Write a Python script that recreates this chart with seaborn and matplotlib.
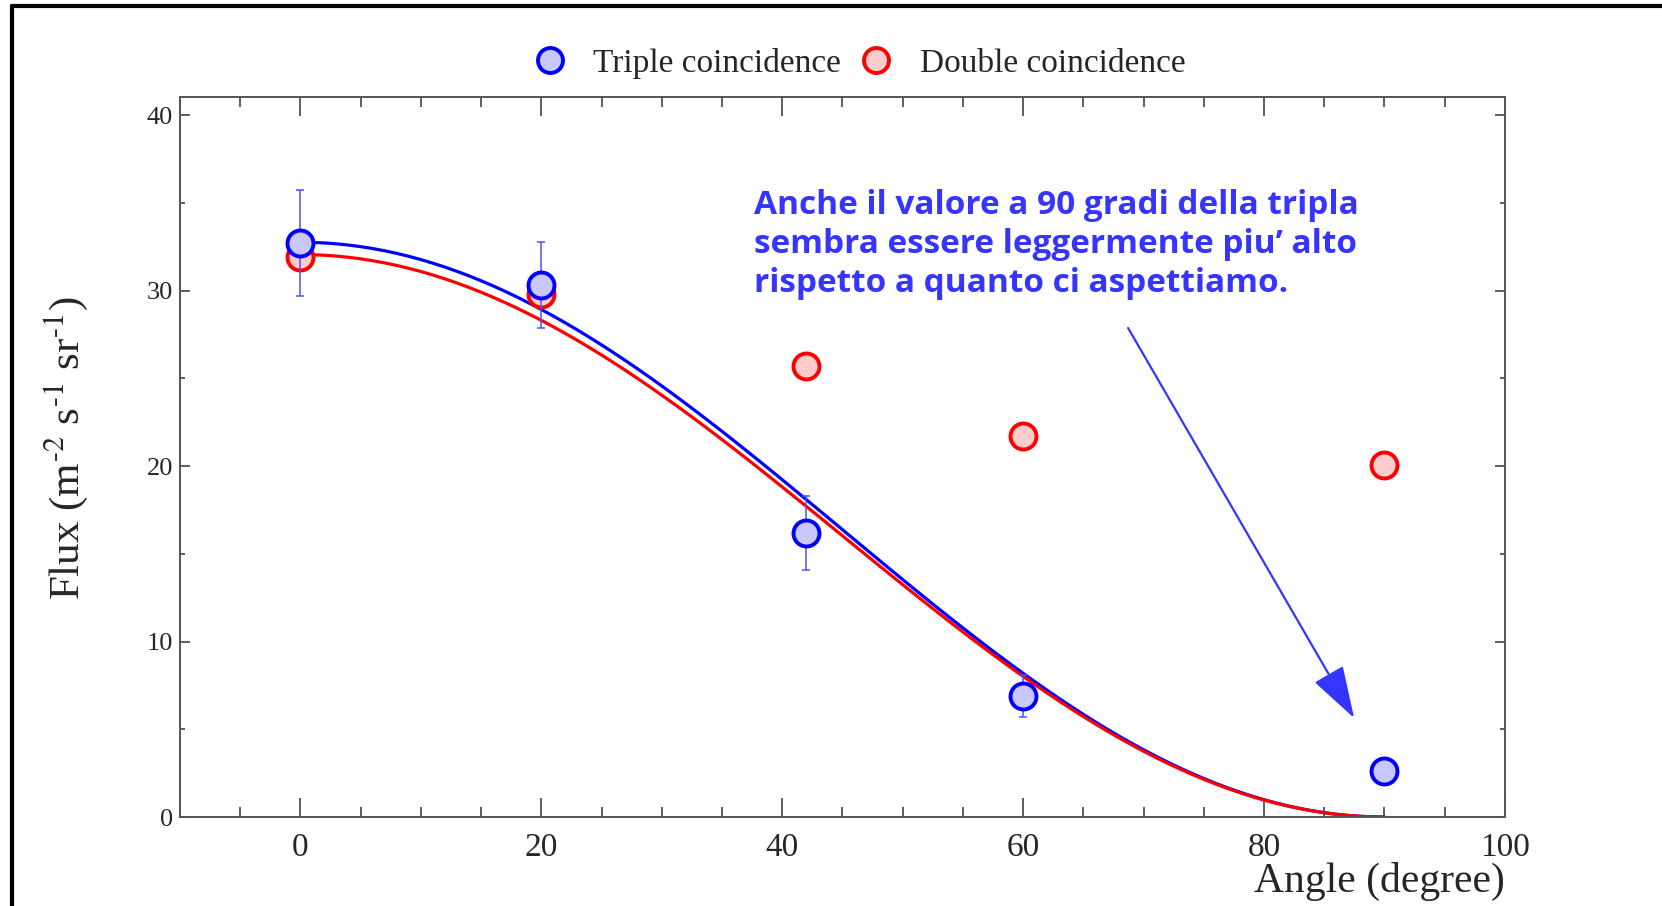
import numpy as np
import seaborn as sns
import matplotlib.pyplot as plt
from matplotlib.lines import Line2D
from matplotlib.ticker import MultipleLocator

# measured points (angle in degrees)
angles = [0, 20, 42, 60, 90]
triple_flux = [32.7, 30.3, 16.2, 6.9, 2.6]
triple_err = [3.0, 2.45, 2.1, 1.2, 0.3]
double_flux = [31.9, 29.8, 25.7, 21.7, 20.05]

# cos^2 fit amplitudes
fit_triple = 32.75
fit_double = 32.05

note = ("Anche il valore a 90 gradi della tripla\n"
        "sembra essere leggermente piu\u2019 alto\n"
        "rispetto a quanto ci aspettiamo.")

sns.set_theme(style="ticks")
plt.rcParams['font.family'] = ['Liberation Serif', 'DejaVu Serif']
plt.rcParams['mathtext.fontset'] = 'stix'

fig = plt.figure(figsize=(16.62, 9.06), dpi=100)
ax = fig.add_axes([0.1083, 0.0982, 0.7972, 0.7942])

# fitted curves
theta = np.linspace(0, 90, 91)
cos2 = np.cos(np.radians(theta)) ** 2
sns.lineplot(x=theta, y=fit_triple * cos2, color='#0000ff', lw=2.3, ax=ax, zorder=2)
sns.lineplot(x=theta, y=fit_double * cos2, color='#ff0000', lw=2.3, ax=ax, zorder=2.5)

# points
sns.scatterplot(x=angles, y=double_flux, s=350, color='#ffcccc', edgecolor='#ff0000',
                linewidth=2.8, ax=ax, zorder=3)
ax.errorbar(angles, triple_flux, yerr=triple_err, fmt='none', ecolor='#5050ff',
            elinewidth=1.1, capsize=3, capthick=1.1, zorder=4)
sns.scatterplot(x=angles, y=triple_flux, s=350, color='#c8c8ff', edgecolor='#0000ff',
                linewidth=2.8, ax=ax, zorder=5)

ax.set_xlim(-10, 100)
ax.set_ylim(0, 41)
ax.xaxis.set_major_locator(MultipleLocator(20))
ax.xaxis.set_minor_locator(MultipleLocator(5))
ax.yaxis.set_major_locator(MultipleLocator(10))
ax.yaxis.set_minor_locator(MultipleLocator(5))
ax.tick_params(which='both', direction='in', top=True, right=True, color='#333333', width=1.1)
ax.tick_params(axis='x', which='major', length=14, labelsize=24, pad=11)
ax.tick_params(axis='x', which='minor', length=7)
ax.tick_params(axis='y', which='major', length=7, labelsize=19, pad=5)
ax.tick_params(axis='y', which='minor', length=3.5)
for sp in ax.spines.values():
    sp.set_color('#555555')
    sp.set_linewidth(1.4)

fig.text(66 / 1662, 0.505, r'Flux (m$^{\text{-2}}$ s$^{\text{-1}}$ sr$^{\text{-1}}$)',
         rotation=90, ha='center', va='center', fontsize=31)
fig.text(0.9055, 0.027, 'Angle (degree)', ha='right', va='center', fontsize=30)

# legend
handles = [
    Line2D([], [], ls='none', marker='o', ms=18, mfc='#c8c8ff', mec='#0000ff', mew=2.8),
    Line2D([], [], ls='none', marker='o', ms=18, mfc='#ffcccc', mec='#ff0000', mew=2.8),
]
fig.legend(handles, ['Triple coincidence', 'Double coincidence'], ncol=2, loc='center',
           bbox_to_anchor=(0.517, 0.93), frameon=False, fontsize=24,
           handlelength=1.0, handletextpad=0.8, columnspacing=0.55)

# annotation
fig.text(754 / 1662, 1 - 189 / 906, note, ha='left', va='top', fontsize=24,
         fontweight='bold', color='#3535ff', family=['Open Sans', 'DejaVu Sans'],
         linespacing=1.23)
ax.annotate('', xy=(87.6, 5.5), xytext=(68.6, 28.0),
            arrowprops=dict(arrowstyle='-|>,head_length=1.1,head_width=0.35',
                            mutation_scale=30, color='#3535ff', lw=1.6))

# outer frame (top and left)
fig.add_artist(Line2D([12 / 1662, 1], [1 - 6 / 906] * 2, color='black', lw=3,
                      transform=fig.transFigure))
fig.add_artist(Line2D([12 / 1662] * 2, [0, 1 - 6 / 906], color='black', lw=3,
                      transform=fig.transFigure))

plt.savefig('out.png', dpi=100)
plt.close()
